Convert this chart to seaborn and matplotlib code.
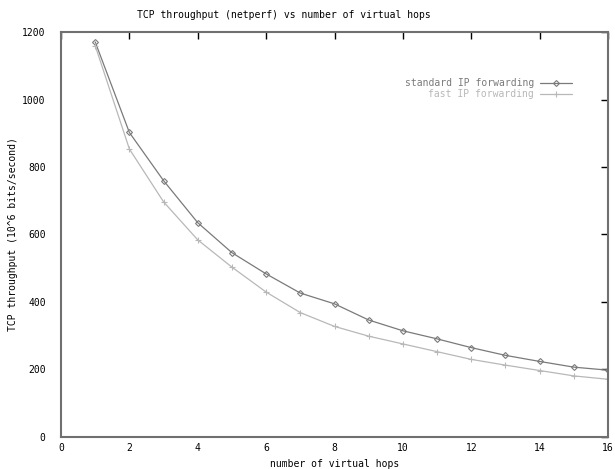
import matplotlib
matplotlib.use("Agg")
import matplotlib.pyplot as plt
import seaborn as sns
import pandas as pd

hops = list(range(1, 17))
standard_ip = [1172, 903, 760, 635, 546, 483, 426, 394, 346, 314, 290, 264, 241, 223, 206, 197]
fast_ip = [1161, 854, 697, 584, 503, 429, 368, 327, 298, 275, 252, 229, 212, 196, 180, 170]
series_names = ["standard IP forwarding", "fast IP forwarding"]
x_ticks = [0, 2, 4, 6, 8, 10, 12, 14, 16]
y_ticks = [0, 200, 400, 600, 800, 1000, 1200]

sns.set_style("white")
plt.rcParams['font.family'] = ['DejaVu Sans Mono']
plt.rcParams['text.color'] = 'black'
plt.rcParams['axes.labelcolor'] = 'black'
plt.rcParams['xtick.labelcolor'] = 'black'
plt.rcParams['ytick.labelcolor'] = 'black'

df = pd.DataFrame({
    "hops": hops * 2,
    "value": standard_ip + fast_ip,
    "series": [series_names[0]] * len(hops) + [series_names[1]] * len(hops),
})

colors = {series_names[0]: "#7a7a7a", series_names[1]: "#b8b8b8"}
markers = {series_names[0]: "D", series_names[1]: "+"}
msizes = {series_names[0]: 3.0, series_names[1]: 5.0}

fig = plt.figure(figsize=(6.15, 4.69), dpi=100)
ax = fig.add_axes([61/615, 1 - 436.5/469, (608 - 61)/615, (436.5 - 32.5)/469])

for name in series_names:
    sub = df[df["series"] == name]
    sns.lineplot(data=sub, x="hops", y="value", ax=ax, color=colors[name],
                 marker=markers[name], markersize=msizes[name],
                 markerfacecolor="none" if name == series_names[0] else colors[name],
                 markeredgecolor=colors[name], markeredgewidth=0.8,
                 linewidth=0.9, label=name, legend=False)

ax.set_xlim(0, 16)
ax.set_ylim(0, 1200)
ax.set_xticks(x_ticks)
ax.set_yticks(y_ticks)
ax.tick_params(direction="in", length=5, width=1, color="black", labelsize=7,
               labelcolor="black",
               top=True, right=True, labeltop=False, labelright=False)
ax.tick_params(axis="y", pad=11)
ax.tick_params(axis="x", pad=5)
for s in ax.spines.values():
    s.set_color("#707070")
    s.set_linewidth(1.5)
    s.set_visible(True)

fig.text(284/615, 1 - 15/469, "TCP throughput (netperf) vs number of virtual hops",
         fontsize=7, color="black", ha="center", va="center")
ax.set_xlabel("number of virtual hops", fontsize=7, labelpad=4, color="black")
ax.set_ylabel("TCP throughput (10^6 bits/second)", fontsize=7, color="black",
              va="center")
ax.yaxis.set_label_coords((13 - 61) / 547, 0.5)

# legend
handles = [
    plt.Line2D([], [], color=colors[series_names[0]], marker="D", markersize=msizes[series_names[0]],
               markerfacecolor="none", markeredgecolor=colors[series_names[0]],
               markeredgewidth=0.8, linewidth=0.9),
    plt.Line2D([], [], color=colors[series_names[1]], marker="+", markersize=msizes[series_names[1]],
               markeredgecolor=colors[series_names[1]], markeredgewidth=0.8, linewidth=0.9),
]
leg = ax.legend(handles, series_names, loc="upper right", bbox_to_anchor=(0.950, 0.909),
                frameon=False, fontsize=7, markerfirst=False, handlelength=3.3,
                handletextpad=0.6, labelspacing=0.1)
for t, n in zip(leg.get_texts(), series_names):
    t.set_color(colors[n])
    t.set_ha("right")

fig.savefig("out.png", dpi=100)
